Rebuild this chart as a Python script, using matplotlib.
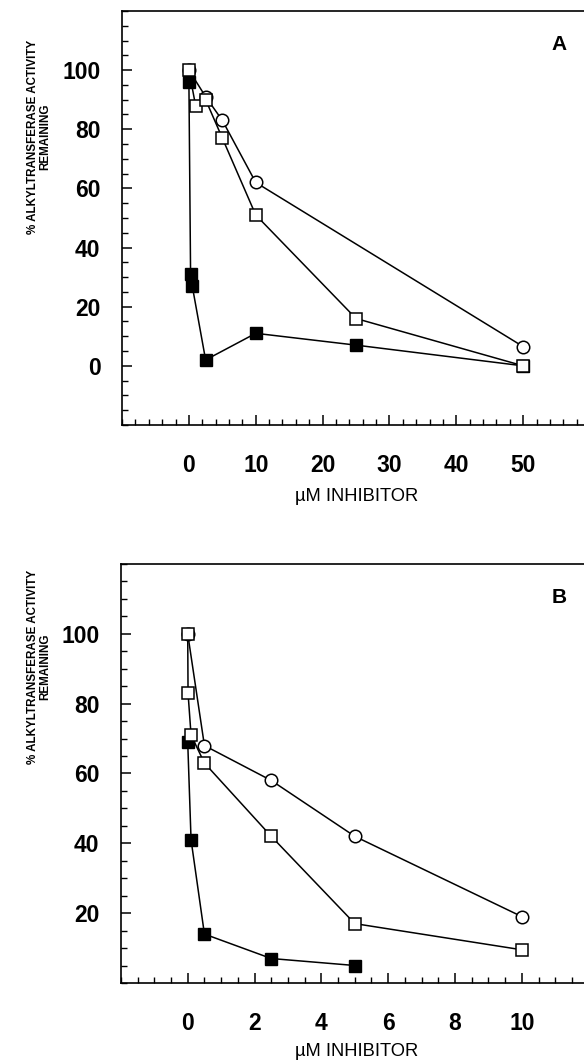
import numpy as np
import matplotlib
matplotlib.use("Agg")
import matplotlib.pyplot as plt
from matplotlib.ticker import MultipleLocator

NARROW = ['Liberation Sans Narrow', 'Liberation Sans', 'DejaVu Sans']
plt.rcParams['font.family'] = NARROW

# panel A data
a_circle_x = [0, 2.5, 5, 10, 50]
a_circle_y = [100, 91, 83, 62, 6.5]
a_open_x = [0, 1, 2.5, 5, 10, 25, 50]
a_open_y = [100, 88, 90, 77, 51, 16, 0]
a_filled_x = [0, 0.25, 0.5, 2.5, 10, 25, 50]
a_filled_y = [96, 31, 27, 2, 11, 7, 0]
a_xticks = [0, 10, 20, 30, 40, 50]
a_yticks = [0, 20, 40, 60, 80, 100]

# panel B data
b_circle_x = [0, 0.5, 2.5, 5, 10]
b_circle_y = [100, 68, 58, 42, 19]
b_open_x = [0, 0.01, 0.1, 0.5, 2.5, 5, 10]
b_open_y = [100, 83, 71, 63, 42, 17, 9.5]
b_filled_x = [0, 0.1, 0.5, 2.5, 5]
b_filled_y = [69, 41, 14, 7, 5]
b_xticks = [0, 2, 4, 6, 8, 10]
b_yticks = [20, 40, 60, 80, 100]

ylabel = "% ALKYLTRANSFERASE ACTIVITY\nREMAINING"
xlabel = "\u00b5M INHIBITOR"

fig = plt.figure(figsize=(5.84, 10.63), dpi=100)


def panel(rect, series, xlim, ylim, xticks, xmin, yticks, letter):
    ax = fig.add_axes(rect)
    cx, cy, ox, oy, fx, fy = series
    ax.plot(fx, fy, '-s', color='black', mfc='black', ms=8.0, lw=1.1, zorder=3)
    ax.plot(cx, cy, '-o', color='black', mfc='white', ms=9, mew=1.1, lw=1.1, zorder=4)
    ax.plot(ox, oy, '-s', color='black', mfc='white', ms=8.0, mew=1.1, lw=1.1, zorder=5)
    ax.set_xlim(*xlim)
    ax.set_ylim(*ylim)
    ax.set_xticks(xticks)
    ax.xaxis.set_minor_locator(MultipleLocator(xmin))
    ax.set_yticks(yticks)
    ax.yaxis.set_minor_locator(MultipleLocator(5))
    ax.spines['right'].set_visible(False)
    for s in ['left', 'bottom', 'top']:
        ax.spines[s].set_linewidth(1.2)
    ax.tick_params(which='both', direction='in', top=False, right=False)
    ax.tick_params(which='major', length=7, width=1.1)
    ax.tick_params(which='minor', length=4.5, width=1.0)
    ax.tick_params(axis='y', pad=15.5, labelsize=16.5)
    ax.tick_params(axis='x', pad=21, labelsize=16.5)
    for lab in ax.get_xticklabels() + ax.get_yticklabels():
        lab.set_fontweight('bold')
    ax.text(0.947, 0.92, letter, transform=ax.transAxes, fontsize=15,
            fontweight='bold', ha='center', va='center')
    return ax


axA = panel([0.209, 0.6002, 0.791, 0.3895],
            (a_circle_x, a_circle_y, a_open_x, a_open_y, a_filled_x, a_filled_y),
            (-10, 59.1), (-20, 120), a_xticks, 2, a_yticks, 'A')
axB = panel([0.207, 0.0753, 0.793, 0.3941],
            (b_circle_x, b_circle_y, b_open_x, b_open_y, b_filled_x, b_filled_y),
            (-2, 11.86), (0, 120), b_xticks, 0.5, b_yticks, 'B')

for yy in (497, 1052):
    fig.text(357 / 584, 1 - yy / 1063, xlabel, ha='center', va='center', fontsize=13.2)
for yy in (137, 667):
    fig.text(39 / 584, 1 - yy / 1063, ylabel, rotation=90, ha='center', va='center',
             fontsize=8.4, fontweight='bold', multialignment='center', linespacing=1.1)

fig.savefig("out.png", dpi=100)
